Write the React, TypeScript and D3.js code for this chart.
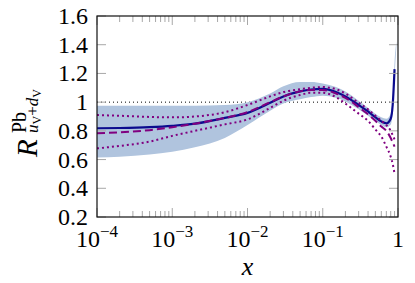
import React, { useEffect, useRef } from "react";
import * as d3 from "d3";

// x grid shared by all the series
const xGrid = [
  1e-4, 2e-4, 5e-4, 1e-3, 2e-3, 5e-3, 1e-2, 2e-2, 3e-2, 5e-2, 7e-2, 0.1, 0.15,
  0.2, 0.3, 0.4, 0.5, 0.6, 0.7, 0.8, 0.85, 0.9, 0.95,
];
const central = [
  0.818, 0.82, 0.826, 0.835, 0.85, 0.89, 0.925, 0.995, 1.04, 1.075, 1.088,
  1.092, 1.07, 1.04, 0.98, 0.935, 0.895, 0.866, 0.853, 0.885, 0.98, 1.23, NaN,
];
const bandUpper = [
  0.975, 0.975, 0.975, 0.975, 0.975, 0.98, 1.0, 1.06, 1.11, 1.14, 1.14, 1.13,
  1.105, 1.075, 1.01, 0.96, 0.92, 0.895, 0.885, 0.92, 1.03, 1.28, 1.42,
];
const bandLower = [
  0.615, 0.62, 0.635, 0.655, 0.685, 0.75, 0.84, 0.94, 0.99, 1.02, 1.035, 1.045,
  1.03, 1.005, 0.95, 0.905, 0.87, 0.84, 0.825, 0.845, 0.93, 1.18, 1.38,
];
const dashed = [
  0.783, 0.79, 0.805, 0.825, 0.85, 0.89, 0.93, 1.0, 1.04, 1.075, 1.085, 1.085,
  1.06, 1.03, 0.965, 0.915, 0.87, 0.83, 0.8, 0.75, 0.72, 0.69, NaN,
];
const dottedUpper = [
  0.91, 0.905, 0.897, 0.894, 0.9, 0.93, 0.98, 1.04, 1.07, 1.09, 1.1, 1.105,
  1.09, 1.06, 0.995, 0.95, 0.905, 0.87, 0.84, 0.8, 0.77, 0.74, NaN,
];
const dottedLower = [
  0.678, 0.695, 0.725, 0.765, 0.8, 0.845, 0.88, 0.96, 1.01, 1.05, 1.065, 1.065,
  1.035, 0.99, 0.92, 0.87, 0.81, 0.76, 0.69, 0.62, 0.57, 0.5, NaN,
];
const yTicks = [0.2, 0.4, 0.6, 0.8, 1, 1.2, 1.4, 1.6];
const yTickLabels = ["0.2", "0.4", "0.6", "0.8", "1", "1.2", "1.4", "1.6"];
const xTicks = [1e-4, 1e-3, 1e-2, 1e-1, 1];
const xTickExp = ["−4", "−3", "−2", "−1", ""];

const W = 415;
const H = 283;
const plot = { left: 97, right: 398, top: 16, bottom: 217 };
const font = "Liberation Serif, DejaVu Serif, serif";
const bandColor = "#b0c4de";
const blue = "#0b0b8e";
const purple = "#800080";

const App = () => {
  const ref = useRef<SVGSVGElement>(null);
  useEffect(() => {
    const svg = d3.select(ref.current);
    svg.selectAll("*").remove();

    const x = d3.scaleLog().domain([1e-4, 1]).range([plot.left, plot.right]);
    const y = d3.scaleLinear().domain([0.2, 1.6]).range([plot.bottom, plot.top]);

    svg
      .append("defs")
      .append("clipPath")
      .attr("id", "plotclip")
      .append("rect")
      .attr("x", plot.left)
      .attr("y", plot.top)
      .attr("width", plot.right - plot.left)
      .attr("height", plot.bottom - plot.top);

    const g = svg.append("g").attr("clip-path", "url(#plotclip)");

    // reference line at 1
    g.append("line")
      .attr("x1", plot.left)
      .attr("x2", plot.right)
      .attr("y1", y(1))
      .attr("y2", y(1))
      .attr("stroke", "#000")
      .attr("stroke-width", 1)
      .attr("stroke-dasharray", "1 3");

    const idx = xGrid.map((_, i) => i);
    const area = d3
      .area<number>()
      .defined((i) => !isNaN(bandUpper[i]))
      .x((i) => x(xGrid[i]))
      .y0((i) => y(bandLower[i]))
      .y1((i) => y(bandUpper[i]))
      .curve(d3.curveMonotoneX);
    g.append("path").attr("d", area(idx)).attr("fill", bandColor);

    const lineOf = (vals: number[]) =>
      d3
        .line<number>()
        .defined((i) => !isNaN(vals[i]))
        .x((i) => x(xGrid[i]))
        .y((i) => y(vals[i]))
        .curve(d3.curveMonotoneX)(idx);

    g.append("path")
      .attr("d", lineOf(central))
      .attr("fill", "none")
      .attr("stroke", blue)
      .attr("stroke-width", 2.2);
    g.append("path")
      .attr("d", lineOf(dashed))
      .attr("fill", "none")
      .attr("stroke", purple)
      .attr("stroke-width", 2)
      .attr("stroke-dasharray", "8 4");
    [dottedUpper, dottedLower].forEach((vals) =>
      g
        .append("path")
        .attr("d", lineOf(vals))
        .attr("fill", "none")
        .attr("stroke", purple)
        .attr("stroke-width", 2)
        .attr("stroke-dasharray", "2 3")
    );

    // ticks (inward, on all four sides)
    const ticks = svg.append("g").attr("stroke", "#a8a8a8").attr("stroke-width", 1);
    const minor: number[] = [];
    for (let e = -4; e < 0; e++)
      for (let k = 2; k <= 9; k++) minor.push(k * Math.pow(10, e));
    minor.forEach((v) => {
      ticks.append("line").attr("x1", x(v)).attr("x2", x(v)).attr("y1", plot.bottom).attr("y2", plot.bottom - 6);
      ticks.append("line").attr("x1", x(v)).attr("x2", x(v)).attr("y1", plot.top).attr("y2", plot.top + 6);
    });
    xTicks.forEach((v) => {
      ticks.append("line").attr("x1", x(v)).attr("x2", x(v)).attr("y1", plot.bottom).attr("y2", plot.bottom - 9);
      ticks.append("line").attr("x1", x(v)).attr("x2", x(v)).attr("y1", plot.top).attr("y2", plot.top + 9);
    });
    yTicks.forEach((v) => {
      ticks.append("line").attr("x1", plot.left).attr("x2", plot.left + 9).attr("y1", y(v)).attr("y2", y(v));
      ticks.append("line").attr("x1", plot.right).attr("x2", plot.right - 9).attr("y1", y(v)).attr("y2", y(v));
    });

    svg
      .append("rect")
      .attr("x", plot.left)
      .attr("y", plot.top)
      .attr("width", plot.right - plot.left)
      .attr("height", plot.bottom - plot.top)
      .attr("fill", "none")
      .attr("stroke", "#111")
      .attr("stroke-width", 1.2);

    // y tick labels
    svg
      .selectAll("text.ylab")
      .data(yTicks)
      .enter()
      .append("text")
      .attr("class", "ylab")
      .attr("x", plot.left - 9)
      .attr("y", (d) => y(d) + 8)
      .attr("text-anchor", "end")
      .style("font-family", font)
      .attr("font-size", 24)
      .text((_, i) => yTickLabels[i]);

    // x tick labels: 10^e
    xTicks.forEach((v, i) => {
      const t = svg
        .append("text")
        .attr("x", x(v))
        .attr("y", 247)
        .attr("text-anchor", "middle")
        .style("font-family", font)
        .attr("font-size", 24);
      if (xTickExp[i] === "") {
        t.text("1");
      } else {
        t.append("tspan").text("10");
        t.append("tspan").attr("font-size", 17).attr("dy", -10).text(xTickExp[i]);
      }
    });

    // x axis label
    svg
      .append("text")
      .attr("x", (plot.left + plot.right) / 2)
      .attr("y", 275)
      .attr("text-anchor", "middle")
      .style("font-family", font)
      .attr("font-style", "italic")
      .attr("font-size", 26)
      .text("x");

    // y axis label R^{Pb}_{uV+dV}
    const yl = svg
      .append("g")
      .attr("transform", "translate(37,157) rotate(-90)")
      .style("font-family", font);
    yl.append("text").attr("x", 0).attr("y", 0).attr("font-size", 29).attr("font-style", "italic").text("R");
    yl.append("text").attr("x", 24).attr("y", -11).attr("font-size", 20).text("Pb");
    const sub = yl.append("text").attr("x", 24).attr("y", 1).attr("font-size", 17);
    sub.append("tspan").attr("font-style", "italic").text("u");
    sub.append("tspan").attr("font-size", 12).attr("dy", 3).text("V");
    sub.append("tspan").attr("dy", -3).text("+");
    sub.append("tspan").attr("font-style", "italic").text("d");
    sub.append("tspan").attr("font-size", 12).attr("dy", 3).text("V");
  }, []);

  return (
    <svg
      ref={ref}
      width={W}
      height={H}
      style={{ position: "absolute", left: 0, top: 0, background: "#fff" }}
    ></svg>
  );
};

export default App;
